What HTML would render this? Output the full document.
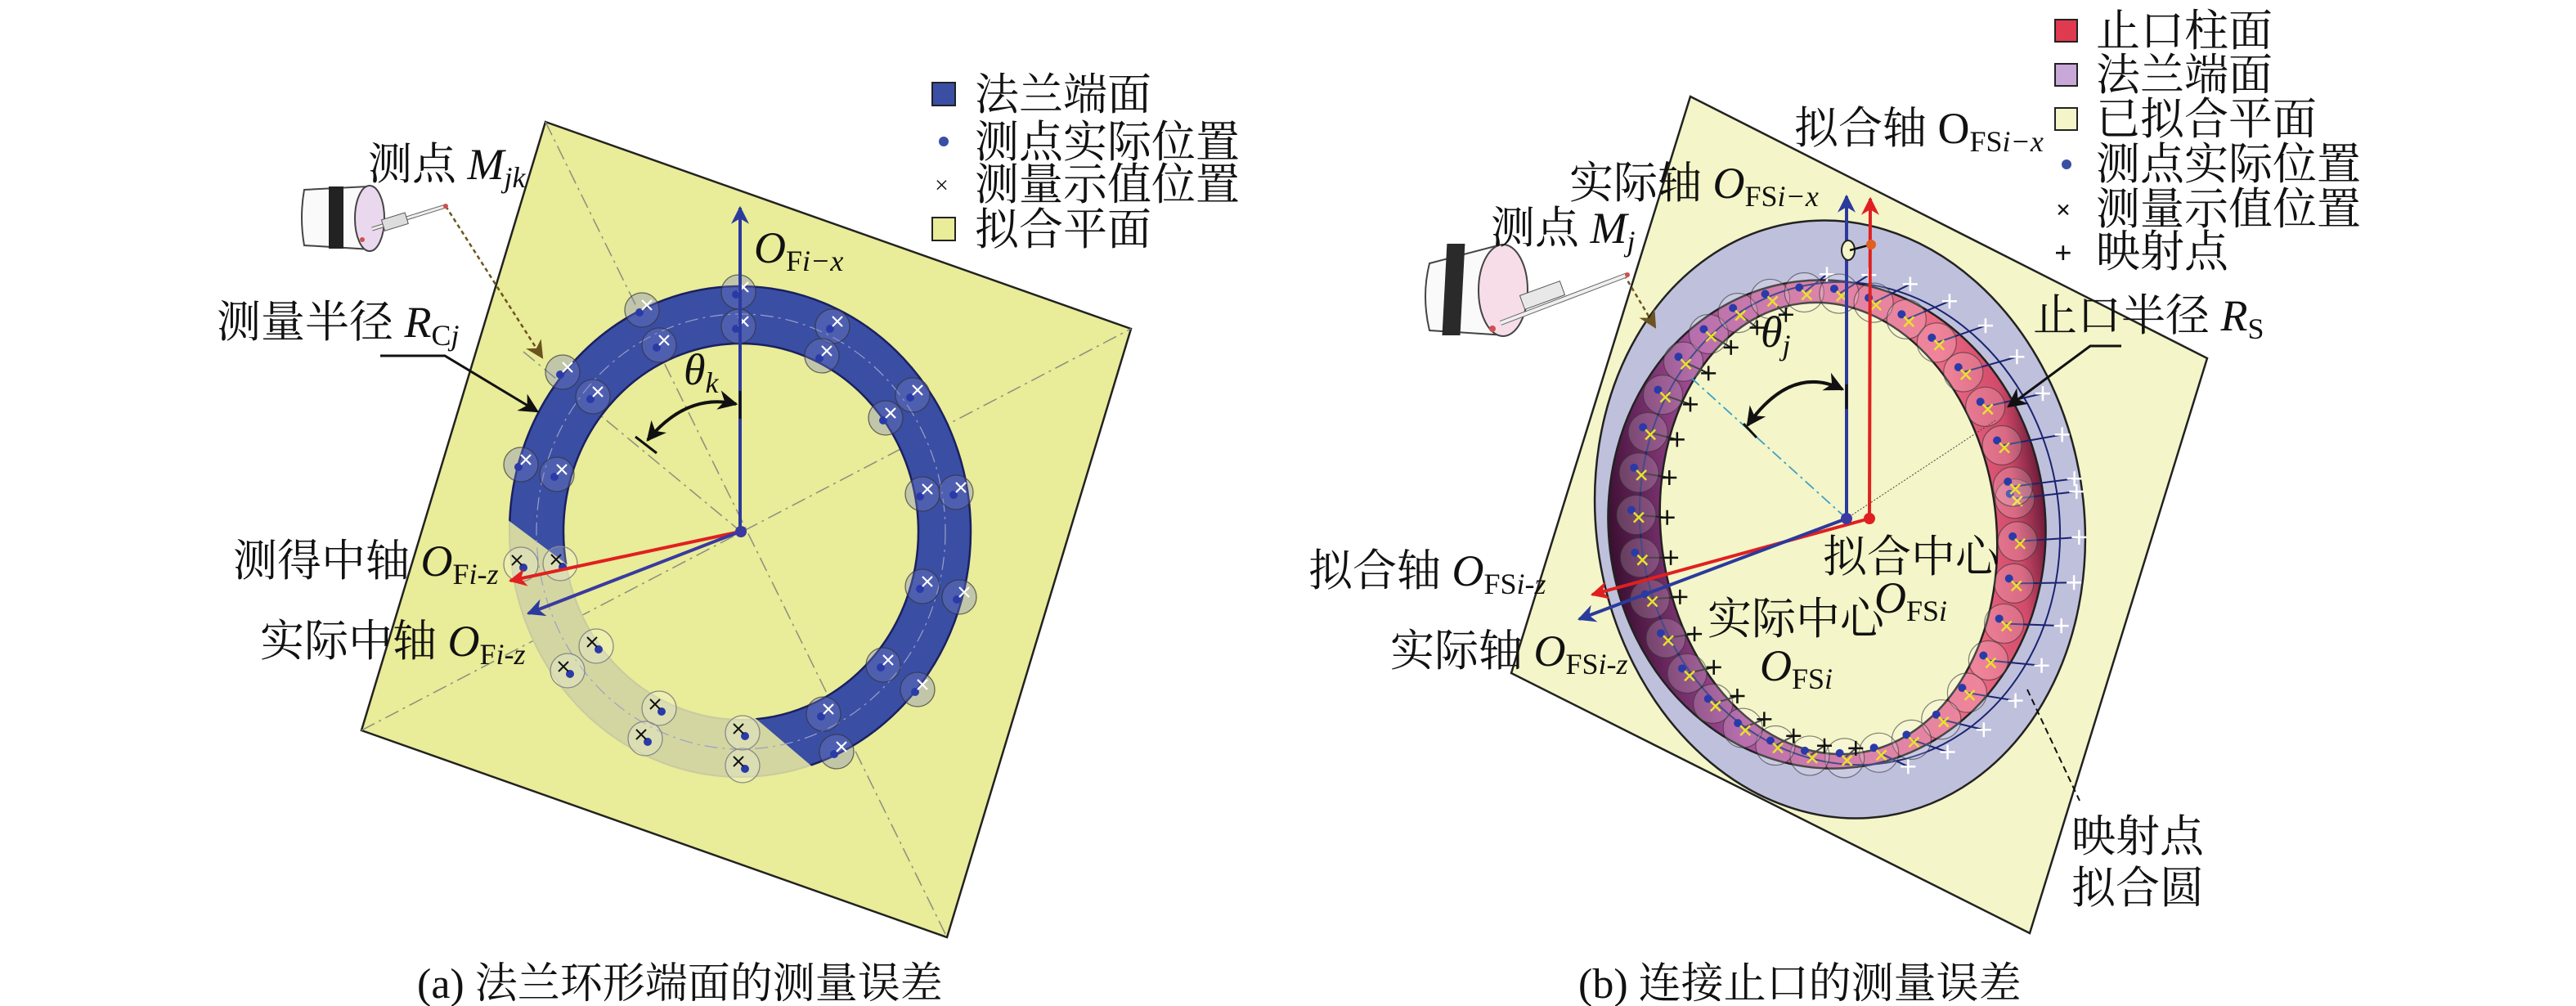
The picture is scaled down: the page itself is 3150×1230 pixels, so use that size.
<!DOCTYPE html>
<html><head><meta charset="utf-8">
<style>
html,body{margin:0;padding:0;background:#fff;}
svg{display:block;}
text{font-family:"Liberation Serif","Noto Serif CJK SC",serif;fill:#111;}
</style></head>
<body>
<svg id="s" width="3150" height="1230" viewBox="0 0 3150 1230" xmlns="http://www.w3.org/2000/svg">
<defs>
<marker id="ab" viewBox="0 0 20 20" refX="18" refY="10" markerWidth="34" markerHeight="22" orient="auto" markerUnits="userSpaceOnUse"><path d="M0,0 L20,10 L0,20 L6,10z" fill="#2b3a9c"/></marker>
<marker id="ar" viewBox="0 0 20 20" refX="18" refY="10" markerWidth="34" markerHeight="22" orient="auto" markerUnits="userSpaceOnUse"><path d="M0,0 L20,10 L0,20 L6,10z" fill="#e02020"/></marker>
<marker id="ak" viewBox="0 0 20 20" refX="18" refY="10" markerWidth="30" markerHeight="24" orient="auto-start-reverse" markerUnits="userSpaceOnUse"><path d="M0,0 L20,10 L0,20 L6,10z" fill="#111"/></marker>
<marker id="abr" viewBox="0 0 20 20" refX="18" refY="10" markerWidth="26" markerHeight="22" orient="auto" markerUnits="userSpaceOnUse"><path d="M0,0 L20,10 L0,20 L6,10z" fill="#6b5420"/></marker>
<linearGradient id="rg" x1="0" y1="0" x2="1" y2="0">
<stop offset="0" stop-color="#3a0e30"/><stop offset="0.1" stop-color="#6a2860"/><stop offset="0.25" stop-color="#a8509c"/><stop offset="0.55" stop-color="#d66a96"/><stop offset="0.8" stop-color="#ec6a84"/><stop offset="0.93" stop-color="#d24a6a"/><stop offset="1" stop-color="#6a1a38"/>
</linearGradient>
<clipPath id="blueclip"><path d="M0,0 H1500 V1230 H0 Z M560,590 L720,710 L900,830 L920,875 L1020,960 L900,1100 L450,900 Z" clip-rule="evenodd"/></clipPath>
</defs>

<!-- LEFT PANEL -->
<polygon points="667,149 1383,402 1158,1146 442,893" fill="#e9ec98" stroke="#222" stroke-width="2.5"/>
<g stroke="#8a8f80" stroke-width="1.5" stroke-dasharray="18,6,3,6" fill="none">
<line x1="667" y1="149" x2="1158" y2="1146"/>
<line x1="442" y1="893" x2="1383" y2="402"/>
<line x1="640" y1="430" x2="906" y2="650"/>
</g>
<path d="M623,650 a282,300 0 1,0 564,0 a282,300 0 1,0 -564,0 Z M689,650 a217,230 0 1,0 434,0 a217,230 0 1,0 -434,0 Z" fill="#d3d6a0" fill-rule="evenodd" stroke="#c8cba0" stroke-width="2"/>
<path clip-path="url(#blueclip)" d="M623,650 a282,300 0 1,0 564,0 a282,300 0 1,0 -564,0 Z M689,650 a217,230 0 1,0 434,0 a217,230 0 1,0 -434,0 Z" fill="#3a4ea4" fill-rule="evenodd" stroke="#1a2060" stroke-width="2.5"/>
<ellipse cx="906" cy="650" rx="250" ry="266" fill="none" stroke="#9aa0c8" stroke-width="1.2" stroke-dasharray="16,6,3,6"/>
<g id="lpts"></g>
<line x1="905" y1="650" x2="905" y2="254" stroke="#2b3a9c" stroke-width="4" marker-end="url(#ab)"/>
<line x1="905" y1="650" x2="624" y2="710" stroke="#e02020" stroke-width="4" marker-end="url(#ar)"/>
<line x1="905" y1="650" x2="646" y2="750" stroke="#3a3aa0" stroke-width="4" marker-end="url(#ab)"/>
<circle cx="906" cy="650" r="7" fill="#3a3aa0"/>
<line x1="905" y1="478" x2="905" y2="512" stroke="#111" stroke-width="3"/>
<line x1="777" y1="534" x2="803" y2="554" stroke="#111" stroke-width="3"/>
<path d="M900,494 Q840,480 792,538" fill="none" stroke="#111" stroke-width="4" marker-end="url(#ak)" marker-start="url(#ak)"/>
<polyline points="465,435 544,435 657,503" fill="none" stroke="#111" stroke-width="3" marker-end="url(#ak)"/>
<line x1="545" y1="252" x2="663" y2="437" stroke="#6b5420" stroke-width="2.5" stroke-dasharray="5,4" marker-end="url(#abr)"/>
<g>
<path d="M372,232 L450,228 L455,305 L372,300 Q366,266 372,232Z" fill="#fafafa" stroke="#444" stroke-width="2"/>
<rect x="402" y="228" width="18" height="76" fill="#222"/>
<ellipse cx="452" cy="267" rx="18" ry="40" fill="#ead8ee" stroke="#444" stroke-width="2"/>
<line x1="455" y1="280" x2="545" y2="252" stroke="#666" stroke-width="5"/>
<line x1="455" y1="280" x2="545" y2="252" stroke="#eee" stroke-width="3"/>
<rect x="468" y="265" width="30" height="14" fill="#ddd" stroke="#555" transform="rotate(-17 480 272)"/>
<circle cx="545" cy="252" r="3" fill="#d05050"/>
<circle cx="443" cy="293" r="3" fill="#d05050"/>
</g>

<!-- RIGHT PANEL -->
<polygon points="2067,118 2699,438 2482,1141 1848,823" fill="#f4f5c8" stroke="#222" stroke-width="2.5"/>
<ellipse cx="2250" cy="635" rx="298" ry="367" transform="rotate(-9 2250 635)" fill="#bfc0dc" stroke="#222" stroke-width="2.5"/>
<ellipse cx="2234" cy="641" rx="267" ry="299" transform="rotate(-7 2234 641)" fill="url(#rg)" stroke="#222" stroke-width="2.5"/>
<ellipse cx="2236" cy="646" rx="205" ry="277" transform="rotate(-7 2236 646)" fill="#f4f5c8" stroke="#222" stroke-width="2.5"/>
<ellipse cx="2262" cy="640" rx="256" ry="296" transform="rotate(-9 2262 640)" fill="none" stroke="#1a2470" stroke-width="2"/>
<g id="rpts"></g>
<line x1="2258" y1="634" x2="2068" y2="462" stroke="#3aa0c8" stroke-width="1.8" stroke-dasharray="14,5,3,5"/>
<line x1="2258" y1="634" x2="2440" y2="514" stroke="#444" stroke-width="1" stroke-dasharray="2,2"/>
<line x1="2258" y1="634" x2="2258" y2="240" stroke="#2b3a9c" stroke-width="4" marker-end="url(#ab)"/>
<line x1="2286" y1="634" x2="2287" y2="243" stroke="#e02020" stroke-width="4" marker-end="url(#ar)"/>
<line x1="2286" y1="634" x2="1947" y2="727" stroke="#e02020" stroke-width="4" marker-end="url(#ar)"/>
<line x1="2258" y1="634" x2="1931" y2="757" stroke="#2b3a9c" stroke-width="4" marker-end="url(#ab)"/>
<circle cx="2258" cy="634" r="7" fill="#3a3aa0"/>
<circle cx="2286" cy="634" r="7" fill="#e02020"/>
<ellipse cx="2260" cy="306" rx="8" ry="12" fill="#f4f5c8" stroke="#222" stroke-width="2"/>
<line x1="2262" y1="306" x2="2288" y2="299" stroke="#111" stroke-width="2.5"/>
<circle cx="2288" cy="299" r="6" fill="#e06020"/>
<line x1="2258" y1="470" x2="2258" y2="500" stroke="#111" stroke-width="3"/>
<line x1="2132" y1="518" x2="2148" y2="535" stroke="#111" stroke-width="3"/>
<path d="M2253,476 Q2190,445 2137,520" fill="none" stroke="#111" stroke-width="4" marker-end="url(#ak)" marker-start="url(#ak)"/>
<polyline points="2594,423 2556,423 2456,497" fill="none" stroke="#111" stroke-width="3" marker-end="url(#ak)"/>
<line x1="2479" y1="843" x2="2543" y2="979" stroke="#111" stroke-width="2" stroke-dasharray="8,5"/>
<line x1="1986" y1="336" x2="2024" y2="400" stroke="#6b5420" stroke-width="2.5" stroke-dasharray="5,4" marker-end="url(#abr)"/>
<g>
<path d="M1748,322 L1832,300 L1842,410 L1748,404 Q1738,362 1748,322Z" fill="#fafafa" stroke="#444" stroke-width="2"/>
<rect x="1785" y="298" width="22" height="112" fill="#2a2a2a" transform="skewX(-3)"/>
<ellipse cx="1838" cy="355" rx="30" ry="56" fill="#f7dde8" stroke="#444" stroke-width="2"/>
<line x1="1835" y1="395" x2="1990" y2="336" stroke="#666" stroke-width="6"/>
<line x1="1835" y1="395" x2="1990" y2="336" stroke="#f0f0f0" stroke-width="4"/>
<rect x="1860" y="352" width="52" height="18" fill="#e8e8e8" stroke="#555" transform="rotate(-20 1886 361)"/>
<circle cx="1990" cy="336" r="3" fill="#d05050"/>
<circle cx="1825" cy="402" r="4" fill="#d05050"/>
</g>

<!-- legends -->
<rect x="1140" y="101" width="28" height="28" fill="#3a4ea4" stroke="#222" stroke-width="2"/>
<circle cx="1154" cy="173" r="6" fill="#3a4ea4"/>
<text x="1143" y="236" font-size="30">×</text>
<rect x="1140" y="266" width="28" height="28" fill="#e9ec98" stroke="#222" stroke-width="2"/>
<rect x="2513" y="24" width="27" height="27" fill="#e03a50" stroke="#222" stroke-width="2"/>
<rect x="2513" y="78" width="27" height="27" fill="#c8a8d8" stroke="#222" stroke-width="2"/>
<rect x="2513" y="132" width="27" height="27" fill="#f4f5c8" stroke="#222" stroke-width="2"/>
<circle cx="2527" cy="201" r="6" fill="#3a4ea4"/>
<text x="2514" y="267" font-size="32" font-weight="bold">×</text>
<text x="2512" y="322" font-size="38" font-weight="bold">+</text>

<g font-size="54">
<text x="1192" y="134">法兰端面</text>
<text x="1192" y="192">测点实际位置</text>
<text x="1192" y="244">测量示值位置</text>
<text x="1192" y="299">拟合平面</text>
<text x="450" y="219">测点 <tspan font-style="italic">M</tspan><tspan font-style="italic" font-size="36" dy="10">jk</tspan></text>
<text x="265" y="412">测量半径 <tspan font-style="italic">R</tspan><tspan font-size="36" dy="10">C</tspan><tspan font-size="36" font-style="italic">j</tspan></text>
<text x="285" y="704">测得中轴 <tspan font-style="italic">O</tspan><tspan font-size="36" dy="10">F</tspan><tspan font-size="36" font-style="italic">i-z</tspan></text>
<text x="318" y="802">实际中轴 <tspan font-style="italic">O</tspan><tspan font-size="36" dy="10">F</tspan><tspan font-size="36" font-style="italic">i-z</tspan></text>
<text x="922" y="321" font-style="italic">O<tspan font-size="36" dy="10" font-style="normal">F</tspan><tspan font-size="36">i−x</tspan></text>
<text x="836" y="470" font-style="italic">θ<tspan font-size="36" dy="10">k</tspan></text>
<text x="510" y="1220" font-size="52">(a) 法兰环形端面的测量误差</text>

<text x="2563" y="56">止口柱面</text>
<text x="2563" y="110">法兰端面</text>
<text x="2563" y="164">已拟合平面</text>
<text x="2563" y="219">测点实际位置</text>
<text x="2563" y="274">测量示值位置</text>
<text x="2563" y="326">映射点</text>
<text x="2194" y="175">拟合轴 O<tspan font-size="36" dy="10">FS</tspan><tspan font-size="36" font-style="italic">i−x</tspan></text>
<text x="1919" y="242">实际轴 <tspan font-style="italic">O</tspan><tspan font-size="36" dy="10">FS</tspan><tspan font-size="36" font-style="italic">i−x</tspan></text>
<text x="1823" y="297">测点 <tspan font-style="italic">M</tspan><tspan font-style="italic" font-size="36" dy="10">j</tspan></text>
<text x="2486" y="404">止口半径 <tspan font-style="italic">R</tspan><tspan font-size="36" dy="10">S</tspan></text>
<text x="2153" y="424" font-style="italic">θ<tspan font-size="36" dy="10">j</tspan></text>
<text x="2229" y="699">拟合中心</text>
<text x="2292" y="749" font-style="italic">O<tspan font-size="36" dy="10" font-style="normal">FS</tspan><tspan font-size="36">i</tspan></text>
<text x="2088" y="775">实际中心</text>
<text x="2152" y="832" font-style="italic">O<tspan font-size="36" dy="10" font-style="normal">FS</tspan><tspan font-size="36">i</tspan></text>
<text x="1600" y="716">拟合轴 <tspan font-style="italic">O</tspan><tspan font-size="36" dy="10">FS</tspan><tspan font-size="36" font-style="italic">i-z</tspan></text>
<text x="1700" y="814">实际轴 <tspan font-style="italic">O</tspan><tspan font-size="36" dy="10">FS</tspan><tspan font-size="36" font-style="italic">i-z</tspan></text>
<text x="2533" y="1041">映射点</text>
<text x="2533" y="1104">拟合圆</text>
<text x="1930" y="1220" font-size="52">(b) 连接止口的测量误差</text>
</g>
</svg>
<script>
(function(){
var NS="http://www.w3.org/2000/svg";
function el(p,t,a){var e=document.createElementNS(NS,t);for(var k in a)e.setAttribute(k,a[k]);p.appendChild(e);return e;}
function cross(p,x,y,s,c,w){el(p,"path",{d:"M"+(x-s)+","+(y-s)+"L"+(x+s)+","+(y+s)+"M"+(x-s)+","+(y+s)+"L"+(x+s)+","+(y-s),stroke:c,"stroke-width":w,fill:"none"});}
function plus(p,x,y,s,c,w){el(p,"path",{d:"M"+(x-s)+","+y+"L"+(x+s)+","+y+"M"+x+","+(y-s)+"L"+x+","+(y+s),stroke:c,"stroke-width":w,fill:"none"});}
var L=document.getElementById("lpts");
var pts=[[903,357],[785,379],[1018,399],[688,455],[1116,483],[637,568],[1169,602],[1173,730],[1122,843],[1023,919],
[903,399],[806,422],[1005,435],[725,485],[1083,511],[681,580],[1128,604],[1128,717],[1080,813],[1007,873]];
var pale=[[637,690],[694,820],[789,903],[908,936],[685,689],[729,790],[806,866],[908,896]];
pts.forEach(function(p){el(L,"circle",{cx:p[0],cy:p[1],r:21,fill:"rgba(120,130,200,0.35)",stroke:"#333","stroke-width":1.3,"stroke-opacity":0.7});
el(L,"circle",{cx:p[0]-3,cy:p[1]+3,r:5,fill:"#2a3aa8"});cross(L,p[0]+6,p[1]-6,6,"#fff",2.2);});
pale.forEach(function(p){el(L,"circle",{cx:p[0],cy:p[1],r:21,fill:"rgba(255,255,255,0.2)",stroke:"#888","stroke-width":1.3});
el(L,"circle",{cx:p[0]+3,cy:p[1]+4,r:5,fill:"#2a3aa8"});cross(L,p[0]-5,p[1]-5,6,"#111",2);});
var R=document.getElementById("rpts");
var cx=2234,cy=642,a=-8*Math.PI/180;
function ep(rx,ry,t,ox,oy){var x=rx*Math.cos(t),y=ry*Math.sin(t);return [ox+x*Math.cos(a)-y*Math.sin(a),oy+x*Math.sin(a)+y*Math.cos(a)];}
for(var d=0;d<360;d+=10.5){var t=d*Math.PI/180;
var p=ep(232,286,t,cx,cy);
var right=Math.cos(t)>0;
var q=right?ep(280,306,t,2262,640):ep(208,270,t,2248,646);
el(R,"line",{x1:p[0],y1:p[1],x2:q[0],y2:q[1],stroke:right?"#1a2470":"#222","stroke-width":2});
el(R,"circle",{cx:p[0],cy:p[1],r:24,fill:"rgba(255,255,255,0.18)",stroke:"#333","stroke-width":1.2,"stroke-opacity":0.6});
el(R,"circle",{cx:p[0]-6,cy:p[1]-6,r:5,fill:"#2a3aa8"});
cross(R,p[0]+3,p[1]+3,6,"#e8e030",2.5);
plus(R,q[0],q[1],9,right?"#fff":"#111",2.5);}
})();
</script>
</body></html>
